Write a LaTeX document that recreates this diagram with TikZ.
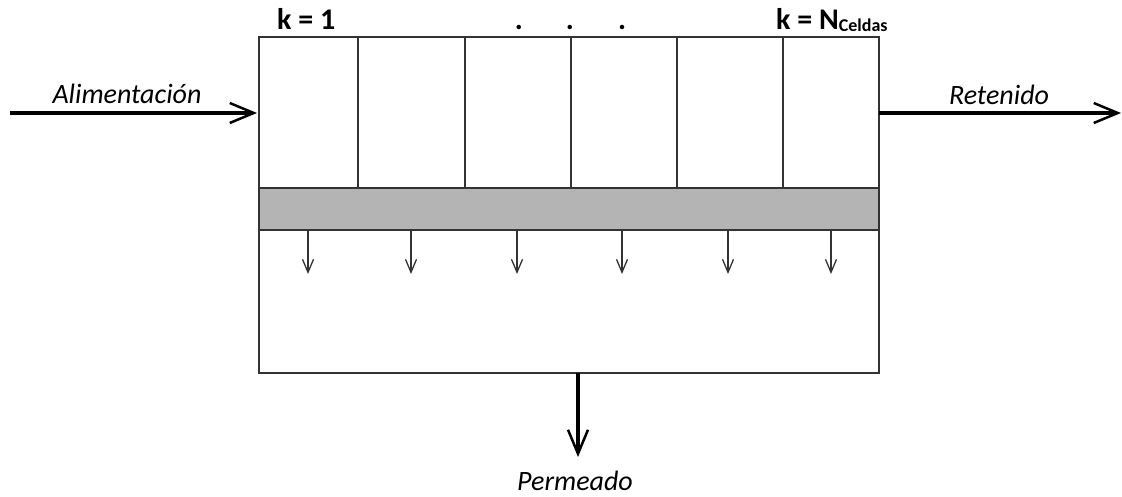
\documentclass[tikz,border=0pt]{standalone}
\usepackage{fontspec}
\setmainfont{Carlito}
\usetikzlibrary{arrows.meta}
\definecolor{memb}{HTML}{B4B4B4}
\definecolor{edge}{HTML}{333333}
\tikzset{
  boxline/.style={draw=edge, line width=1.6pt},
  bigflow/.style={line width=4pt, -{Straight Barb[length=24pt,width=20pt,line width=2.5pt]}},
  smallflow/.style={draw=edge, line width=1.6pt, -{Straight Barb[length=13pt,width=11pt,line width=1.3pt]}},
  lbl/.style={font=\fontsize{28}{32}\selectfont\itshape, inner sep=0pt},
  klbl/.style={font=\fontsize{30}{32}\selectfont\bfseries, inner sep=0pt},
}
\begin{document}
\begin{tikzpicture}[x=1pt,y=-1pt]
\useasboundingbox (0,0) rectangle (1122,497);
% membrane
\fill[memb] (259,188) rectangle (879,230);
% outer box and lines
\draw[boxline] (259,37) rectangle (879,373);
\draw[boxline] (259,188) -- (879,188);
\draw[boxline] (259,230) -- (879,230);
\foreach \x in {358,465,571,677,783} \draw[boxline] (\x,37) -- (\x,188);
% named points
\coordinate (inA) at (10,113);
\coordinate (inB) at (257,113);
\coordinate (outA) at (879,113);
\coordinate (outB) at (1121,113);
\coordinate (pA) at (578,373);
\coordinate (pB) at (578,457);
\draw[bigflow] (inA) -- (inB);
\draw[bigflow] (outA) -- (outB);
\draw[bigflow] (pA) -- (pB);
\foreach \x [count=\i] in {308,411,517,622,728,831} {
  \coordinate (s\i) at (\x,230);
  \coordinate (e\i) at (\x,274);
  \draw[smallflow] (s\i) -- (e\i);
}
% labels
\node[lbl, anchor=base] (alim) at (127,104) {Alimentación};
\node[lbl, anchor=base] (ret) at (999,105) {Retenido};
\node[lbl, anchor=base] (perm) at (575,490) {Permeado};
\node[klbl, anchor=base west] (k1) at (277,30) {k = 1};
\node[klbl, anchor=base west] (kN) at (776,30) {k = N\raisebox{-2pt}{\fontsize{18}{19}\selectfont Celdas}};
\foreach \x [count=\i] in {519,570,622} \node[klbl, anchor=base] (d\i) at (\x,30) {.};
\end{tikzpicture}
\end{document}
